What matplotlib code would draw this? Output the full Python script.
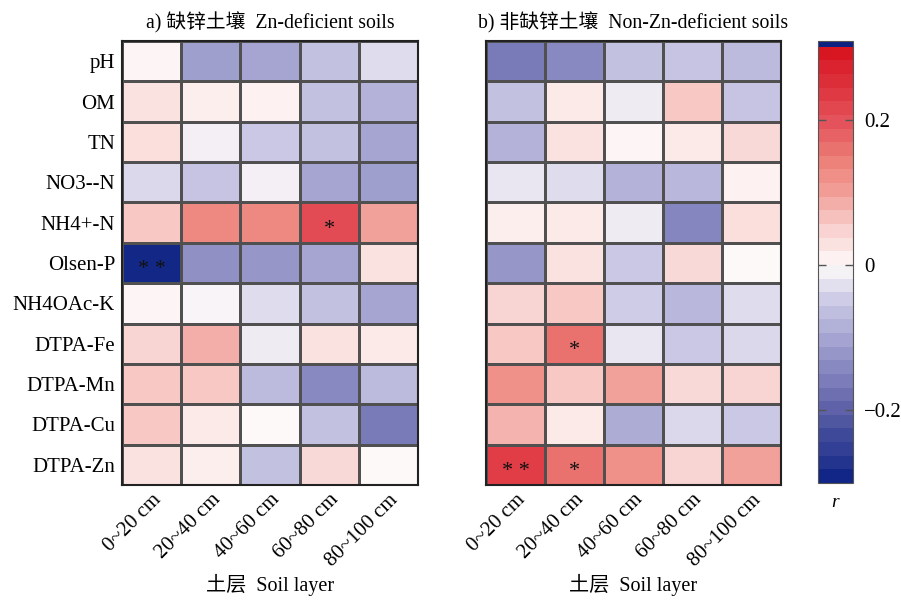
import numpy as np
import matplotlib
matplotlib.use("Agg")
import matplotlib.pyplot as plt
from matplotlib.colors import LinearSegmentedColormap, ListedColormap, BoundaryNorm
import matplotlib as mpl

plt.rcParams['font.family'] = ['Liberation Serif', 'Noto Sans CJK SC']
plt.rcParams['axes.unicode_minus'] = True

rows = ["pH", "OM", "TN", "NO3--N", "NH4+-N", "Olsen-P", "NH4OAc-K",
        "DTPA-Fe", "DTPA-Mn", "DTPA-Cu", "DTPA-Zn"]
cols = ["0~20 cm", "20~40 cm", "40~60 cm", "60~80 cm", "80~100 cm"]

vals_a = [
    [0.005, -0.11, -0.10, -0.06, -0.03],
    [0.03, 0.015, 0.01, -0.06, -0.08],
    [0.035, -0.01, -0.05, -0.06, -0.10],
    [-0.035, -0.055, -0.01, -0.10, -0.11],
    [0.06, 0.13, 0.13, 0.21, 0.10],
    [-0.29, -0.13, -0.12, -0.10, 0.03],
    [0.005, -0.005, -0.03, -0.06, -0.10],
    [0.045, 0.085, -0.015, 0.03, 0.02],
    [0.06, 0.06, -0.07, -0.14, -0.07],
    [0.06, 0.02, -0.002, -0.06, -0.16],
    [0.03, 0.015, -0.06, 0.04, 0.0],
]
vals_b = [
    [-0.16, -0.14, -0.06, -0.055, -0.07],
    [-0.06, 0.02, -0.015, 0.06, -0.055],
    [-0.08, 0.03, 0.005, 0.02, 0.04],
    [-0.02, -0.03, -0.08, -0.075, 0.01],
    [0.015, 0.02, -0.015, -0.145, 0.035],
    [-0.12, 0.03, -0.05, 0.04, 0.0],
    [0.045, 0.06, -0.045, -0.075, -0.03],
    [0.06, 0.16, -0.02, -0.05, -0.035],
    [0.12, 0.06, 0.10, 0.04, 0.045],
    [0.08, 0.02, -0.09, -0.035, -0.05],
    [0.23, 0.16, 0.12, 0.045, 0.10],
]
# significance marks: (row, col, text)
sig_a = [(4, 3, "*"), (5, 0, "**")]
sig_b = [(7, 1, "*"), (10, 0, "**"), (10, 1, "*")]

titles = ["a) 缺锌土壤  Zn-deficient soils", "b) 非缺锌土壤  Non-Zn-deficient soils"]
xlabel = "土层  Soil layer"

vmin, vmax = -0.3, 0.3
anchors = [(-0.30, "#0b2283"), (-0.20, "#5d60a7"), (-0.10, "#a6a5d2"),
           (-0.05, "#cac8e4"), (0.0, "#fefafa"), (0.05, "#f8d2cf"),
           (0.10, "#f2a09a"), (0.15, "#ec7b73"), (0.20, "#e4525b"),
           (0.30, "#d6111d")]
cmap = LinearSegmentedColormap.from_list(
    "c", [((v - vmin) / (vmax - vmin), c) for v, c in anchors])

fig = plt.figure(figsize=(9.01, 6.0), dpi=100)
W, H = 901, 600
def ax_rect(l, r, t, b):
    return [l / W, 1 - b / H, (r - l) / W, (b - t) / H]

axes = [fig.add_axes(ax_rect(122, 418, 41, 485)),
        fig.add_axes(ax_rect(486, 781, 41, 485))]

for k, (ax, vals, sig) in enumerate(zip(axes, [vals_a, vals_b], [sig_a, sig_b])):
    data = np.array(vals)
    ax.pcolormesh(np.arange(len(cols) + 1), np.arange(len(rows) + 1), data,
                  cmap=cmap, vmin=vmin, vmax=vmax,
                  edgecolor="#505050", linewidth=0.75)
    ax.set_xlim(0, len(cols))
    ax.set_ylim(len(rows), 0)
    for r, c, t in sig:
        ax.text(c + 0.5, r + 0.66, " ".join(t) if len(t) > 1 else t,
                ha="center", va="center", fontsize=16, color="#111111")
    ax.set_xticks(np.arange(len(cols)) + 0.5)
    ax.set_xticklabels(cols, rotation=45, ha="right", va="top",
                       rotation_mode="anchor", fontsize=15)
    ax.tick_params(axis="x", length=0, pad=4)
    ax.tick_params(axis="y", length=0, pad=5)
    if k == 0:
        ax.set_yticks(np.arange(len(rows)) + 0.5)
        ax.set_yticklabels(rows, fontsize=15)
    else:
        ax.set_yticks([])
    for s in ax.spines.values():
        s.set_linewidth(1.5)
        s.set_color("#222222")
    ax.set_title(titles[k], fontsize=14.2, pad=9)
    cx = (ax.get_position().x0 + ax.get_position().x1) / 2
    fig.text(cx, 1 - 585 / H, xlabel, ha="center", va="center", fontsize=14.5)

# colorbar
cax = fig.add_axes(ax_rect(818, 853, 41, 483))
nb = 32
bounds = list(np.linspace(vmin, vmax, nb + 1)) + [vmax + 0.008]
centers = [(bounds[i] + bounds[i + 1]) / 2 for i in range(nb)]
colors = [cmap((c - vmin) / (vmax - vmin)) for c in centers] + ["#0b2283"]
dcmap = ListedColormap(colors)
norm = BoundaryNorm(bounds, dcmap.N)
cb = mpl.colorbar.ColorbarBase(cax, cmap=dcmap, norm=norm, boundaries=bounds,
                               spacing="proportional", orientation="vertical")
cb.set_ticks([-0.2, 0, 0.2])
cb.set_ticklabels(["\u22120.2", "0", "0.2"])
cb.minorticks_off()
cb.outline.set_linewidth(0.8)
cb.outline.set_edgecolor("#555555")
cax.tick_params(axis="y", direction="in", length=6, width=1, color="#555555",
                labelsize=15, pad=8, left=True, right=True)
cax.set_xlabel("r", fontsize=14, style="italic", labelpad=8)

fig.savefig("out.png", dpi=100)
